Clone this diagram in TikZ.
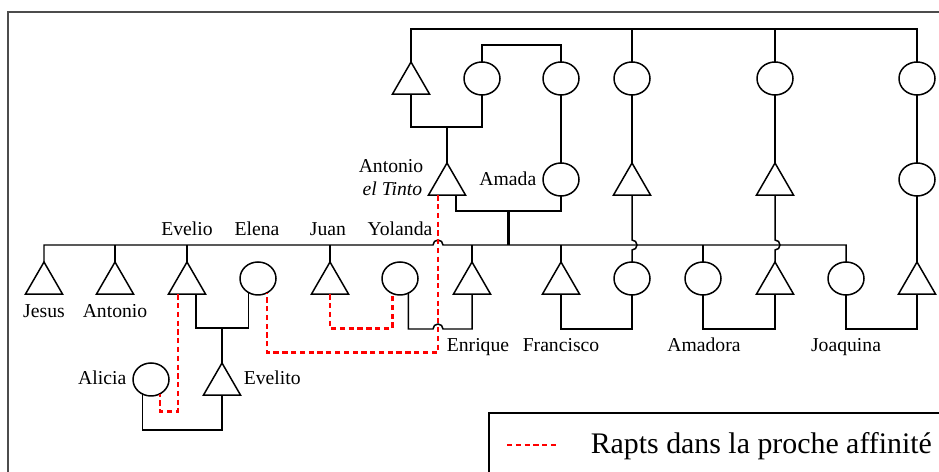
\documentclass[tikz,border=0pt]{standalone}
\usepackage{fontspec}
\setmainfont{Liberation Serif}
\usetikzlibrary{shapes.geometric}

\tikzset{
  male/.style={draw, regular polygon, regular polygon sides=3, minimum size=0.86cm, inner sep=0pt, outer sep=0pt, anchor=corner 1},
  female/.style={draw, ellipse, minimum width=0.72cm, minimum height=0.66cm, inner sep=0pt, outer sep=0pt, anchor=north},
  lbl/.style={font=\fontsize{11.2}{13.4}\selectfont, inner sep=0pt},
  rapt/.style={red, line width=1.6pt, dash pattern=on 3pt off 2pt},
}

\begin{document}
\begin{tikzpicture}[x=0.02cm, y=-0.02cm, line width=0.85pt]
    \path[use as bounding box, clip] (0,0) rectangle (939,472);
    % frame and legend
    \draw[line width=0.6pt, black!70] (8,12) rectangle (960,490);
    \draw[line width=0.6pt] (489,413) rectangle (960,490);
    \coordinate (legA) at (507,445);
    \coordinate (legB) at (556,445);
    \draw[rapt] (legA) -- (legB);
    \node[anchor=base west, inner sep=0pt, font=\fontsize{17}{20}\selectfont] (legtxt) at (590,453) {Rapts dans la proche affinité};

    % first generation
    \node[male] (aieul) at (411,62) {};
    \node[female] (aieule) at (482,62) {};
    \node[female] (tante) at (561,62) {};
    \node[female] (gA) at (632,62) {};
    \node[female] (gB) at (775,62) {};
    \node[female] (gC) at (917,62) {};

    % second generation
    \node[male] (tinto) at (447,163) {};
    \node[female] (amada) at (561,163) {};
    \node[male] (pA) at (632,163) {};
    \node[male] (pB) at (775,163) {};
    \node[female] (pC) at (917,163) {};

    % third generation
    \node[male] (jesus) at (44,262) {};
    \node[male] (antonio) at (115,262) {};
    \node[male] (evelio) at (187,262) {};
    \node[female] (elena) at (258,262) {};
    \node[male] (juan) at (330,262) {};
    \node[female] (yolanda) at (400,262) {};
    \node[male] (enrique) at (472,262) {};
    \node[male] (francisco) at (561,262) {};
    \node[female] (cA) at (632,262) {};
    \node[female] (amadora) at (703,262) {};
    \node[male] (tB) at (775,262) {};
    \node[female] (joaquina) at (846,262) {};
    \node[male] (tC) at (917,262) {};

    % fourth generation
    \node[female] (alicia) at (151,363) {};
    \node[male] (evelito) at (222,363) {};

    % names
    \node[lbl, anchor=base east] (lTinto1) at (424,173) {Antonio};
    \node[lbl, anchor=base east] (lTinto2) at (423,196) {\textit{el Tinto}};
    \node[lbl, anchor=base east] (lAmada) at (537,186) {Amada};
    \node[lbl, anchor=base] (lEvelio) at (187,236) {Evelio};
    \node[lbl, anchor=base] (lElena) at (257,236) {Elena};
    \node[lbl, anchor=base] (lJuan) at (328,236) {Juan};
    \node[lbl, anchor=base] (lYolanda) at (400,236) {Yolanda};
    \node[lbl, anchor=base] (lJesus) at (44,318) {Jesus};
    \node[lbl, anchor=base] (lAntonio) at (115,318) {Antonio};
    \node[lbl, anchor=base] (lEnrique) at (478,352) {Enrique};
    \node[lbl, anchor=base] (lFrancisco) at (561,352) {Francisco};
    \node[lbl, anchor=base] (lAmadora) at (704,352) {Amadora};
    \node[lbl, anchor=base] (lJoaquina) at (846,352) {Joaquina};
    \node[lbl, anchor=base east] (lAlicia) at (127,385) {Alicia};
    \node[lbl, anchor=base west] (lEvelito) at (243,385) {Evelito};

    % siblings at the top
    \draw (aieul.corner 1) -- ++(0,-33) -| (gC.north);
    \draw (gA.north) -- ++(0,-33);
    \draw (gB.north) -- ++(0,-33);
    \draw (aieule.north) -- ++(0,-17) -| (tante.north);

    % couples and children
    \draw (aieul.side 2) -- ++(0,33) -| (aieule.south);
    \coordinate (cplA) at (447,127);
    \draw (cplA) -- (tinto.corner 1);
    \draw (tante.south) -- (amada.north);
    \draw ([xshift=0.18cm]tinto.side 2) -- ++(0,16) -| (amada.south);
    \coordinate (cplB) at (508,211);
    \draw[line width=1.7pt] (cplB) -- ++(0,34);
    \draw (gA.south) -- (pA.corner 1);
    \draw (gB.south) -- (pB.corner 1);
    \draw (gC.south) -- (pC.north);
    \draw (pC.south) -- (tC.corner 1);
    \draw (pA.side 2) -- (632,240) arc[start angle=-90, end angle=90, radius=5] -- (cA.north);
    \draw (pB.side 2) -- (775,240) arc[start angle=-90, end angle=90, radius=5] -- (tB.corner 1);

    % children of Antonio and Amada
    \draw (jesus.corner 1) -- (44,245) -- (433,245) arc[start angle=180, end angle=360, radius=5] -- (846,245) -- (joaquina.north);
    \foreach \n in {antonio, evelio, juan, enrique, francisco}
        \draw (\n.corner 1) -- ++(0,-17);
    \draw (amadora.north) -- ++(0,-17);

    % third generation couples
    \draw ([xshift=0.18cm]evelio.side 2) -- ++(0,34) -| (elena.235);
    \coordinate (cplC) at (222,328);
    \draw[line width=1.7pt] (cplC) -- ++(0,15);
    \draw (cplC) -- (evelito.corner 1);
    \draw (alicia.240) -- ++(0,36) -| (evelito.side 2);
    \draw (yolanda.300) |- (433,329) arc[start angle=180, end angle=360, radius=5] -| (enrique.side 2);
    \draw (francisco.side 2) -- ++(0,35) -| (cA.south);
    \draw (amadora.south) -- ++(0,34) -| (tB.side 2);
    \draw (joaquina.south) -- ++(0,34) -| (tC.side 2);

    % rapts
    \draw[rapt] ([xshift=-0.18cm]tinto.side 2) -- ++(0,157) -| (elena.302);
    \draw[rapt] (juan.side 2) -- ++(0,34) -| (yolanda.242);
    \draw[rapt] ([xshift=-0.18cm]evelio.side 2) -- ++(0,117) -| (alicia.302);
\end{tikzpicture}
\end{document}
